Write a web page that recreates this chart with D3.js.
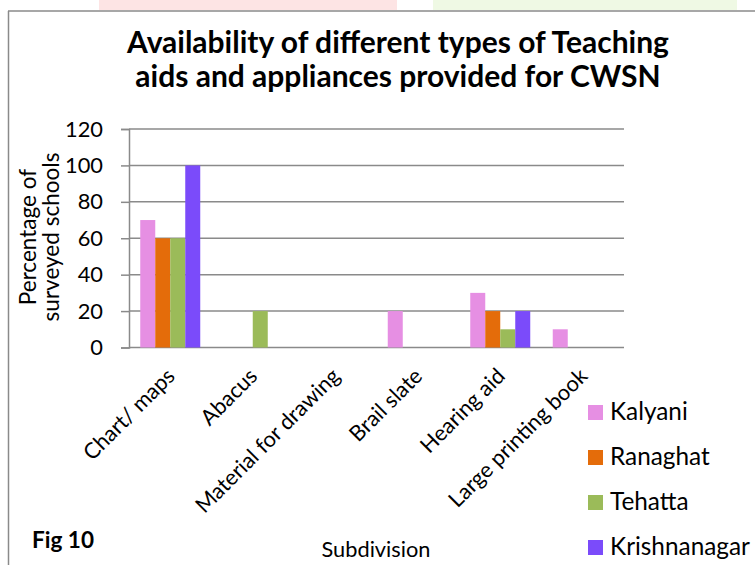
<!DOCTYPE html>
<html>
<head>
<meta charset="utf-8">
<script src="https://cdn.jsdelivr.net/npm/d3@7"></script>
<style>
  html, body { margin: 0; padding: 0; background: #fff; }
  svg { display: block; }
  text { font-family: Lato, "Open Sans", sans-serif; fill: #000; }
</style>
</head>
<body>
<svg id="chart" width="755" height="565"></svg>
<script>
// ---- data ----
const categories = ["Chart/ maps", "Abacus", "Material for drawing", "Brail slate", "Hearing aid", "Large printing book"];
const seriesNames = ["Kalyani", "Ranaghat", "Tehatta", "Krishnanagar"];
const kalyani = [70, 0, 0, 20, 30, 10];
const ranaghat = [60, 0, 0, 0, 20, 0];
const tehatta = [60, 20, 0, 0, 10, 0];
const krishnanagar = [100, 0, 0, 0, 20, 0];
const yTicks = [0, 20, 40, 60, 80, 100, 120];
const seriesColors = ["#E68FE3", "#E46C0A", "#9BBB59", "#7B4BFA"];
const titleLines = ["Availability of different types of Teaching", "aids and appliances provided for CWSN"];
const yTitleLines = ["Percentage of", "surveyed schools"];
const xTitle = "Subdivision";
const figLabel = "Fig 10";

const seriesValues = [kalyani, ranaghat, tehatta, krishnanagar];
const table = categories.map((c, i) => ({
  category: c,
  values: seriesNames.map((s, j) => ({ series: s, value: seriesValues[j][i] }))
}));

const svg = d3.select("#chart");

// helper: font-size so that text reaches a target width
function fit(sel, target, base) {
  sel.style("font-size", base + "px");
  const w = sel.node().getComputedTextLength();
  return base * target / w;
}

// decorative page strips at top
svg.append("rect").attr("x", 99).attr("y", 0).attr("width", 298).attr("height", 10).attr("fill", "#fde4e4");
svg.append("rect").attr("x", 433).attr("y", 0).attr("width", 304).attr("height", 10).attr("fill", "#eff9e4");

// frame
svg.append("line").attr("x1", 8).attr("x2", 755).attr("y1", 11).attr("y2", 11).attr("stroke", "#8a8a8a").attr("stroke-width", 1.5);
svg.append("line").attr("x1", 8.5).attr("x2", 8.5).attr("y1", 11).attr("y2", 565).attr("stroke", "#8a8a8a").attr("stroke-width", 1.5);

// scales
const x = d3.scaleBand().domain(categories).range([129, 624]).paddingInner(0).paddingOuter(0);
const x1 = d3.scaleBand().domain(seriesNames).range([0, x.bandwidth()]).paddingInner(0).paddingOuter(0.75);
const y = d3.scaleLinear().domain([0, 120]).range([347.5, 129]);
const color = d3.scaleOrdinal().domain(seriesNames).range(seriesColors);

// gridlines
svg.append("g").selectAll("line").data(yTicks).join("line")
  .attr("x1", 129).attr("x2", 624)
  .attr("y1", d => y(d)).attr("y2", d => y(d))
  .attr("stroke", "#8a8a8a").attr("stroke-width", 1.5);

// y axis
const yAxis = svg.append("g").attr("transform", "translate(129,0)")
  .call(d3.axisLeft(y).tickValues(yTicks).tickSize(8).tickPadding(18));
yAxis.select(".domain").attr("stroke", "#8a8a8a").attr("stroke-width", 1.5);
yAxis.selectAll(".tick line").attr("stroke", "#8a8a8a").attr("stroke-width", 1.5);
yAxis.selectAll(".tick text").attr("font-family", null);
{
  const t = yAxis.selectAll(".tick text").filter(d => d === 120);
  const s = fit(t, 38, 20);
  yAxis.selectAll(".tick text").style("font-size", s + "px");
}

// bars
const groups = svg.append("g").selectAll("g").data(table).join("g")
  .attr("transform", d => `translate(${x(d.category)},0)`);
groups.selectAll("rect").data(d => d.values).join("rect")
  .attr("x", d => x1(d.series))
  .attr("width", x1.bandwidth())
  .attr("y", d => y(d.value))
  .attr("height", d => y(0) - y(d.value))
  .attr("fill", d => color(d.series));

// x axis labels (rotated)
const xAxis = svg.append("g").attr("transform", `translate(0,${y(0)})`)
  .call(d3.axisBottom(x).tickSize(0));
xAxis.select(".domain").remove();
xAxis.selectAll(".tick text")
  .attr("font-family", null)
  .attr("y", 0).attr("dy", null)
  .attr("text-anchor", "end")
  .attr("transform", "translate(6,30) rotate(-45)");
{
  const t = xAxis.selectAll(".tick text").filter(d => d === "Chart/ maps");
  const s = fit(t, 119, 18);
  xAxis.selectAll(".tick text").style("font-size", s + "px");
}

// title
const tl = svg.append("g").selectAll("text").data(titleLines).join("text")
  .attr("x", 398).attr("y", (d, i) => 53 + i * 34)
  .attr("text-anchor", "middle").style("font-weight", "bold")
  .text(d => d);
{
  const s = fit(tl.filter((d, i) => i === 0), 542, 24);
  tl.style("font-size", s + "px");
}

// y axis title
const yt = svg.append("g").selectAll("text").data(yTitleLines).join("text")
  .attr("transform", (d, i) => `translate(${36 + i * 23},237) rotate(-90)`)
  .attr("text-anchor", "middle")
  .text(d => d);
{
  const s = fit(yt.filter((d, i) => i === 1), 169, 18);
  yt.style("font-size", s + "px");
}

// x axis title
const xt = svg.append("text").attr("x", 376).attr("y", 557).attr("text-anchor", "middle").text(xTitle);
xt.style("font-size", fit(xt, 109, 18) + "px");

// fig label
const fl = svg.append("text").attr("x", 32).attr("y", 548).style("font-weight", "bold").text(figLabel);
fl.style("font-size", fit(fl, 62, 20) + "px");

// legend
const legend = svg.append("g").selectAll("g").data(seriesNames).join("g")
  .attr("transform", (d, i) => `translate(588,${405 + i * 45})`);
legend.append("rect").attr("width", 15).attr("height", 15).attr("fill", d => color(d));
const lt = legend.append("text").attr("x", 22).attr("y", 15).text(d => d);
{
  const s = fit(lt.filter(d => d === "Krishnanagar"), 140, 20);
  lt.style("font-size", s + "px");
}
</script>
</body>
</html>
